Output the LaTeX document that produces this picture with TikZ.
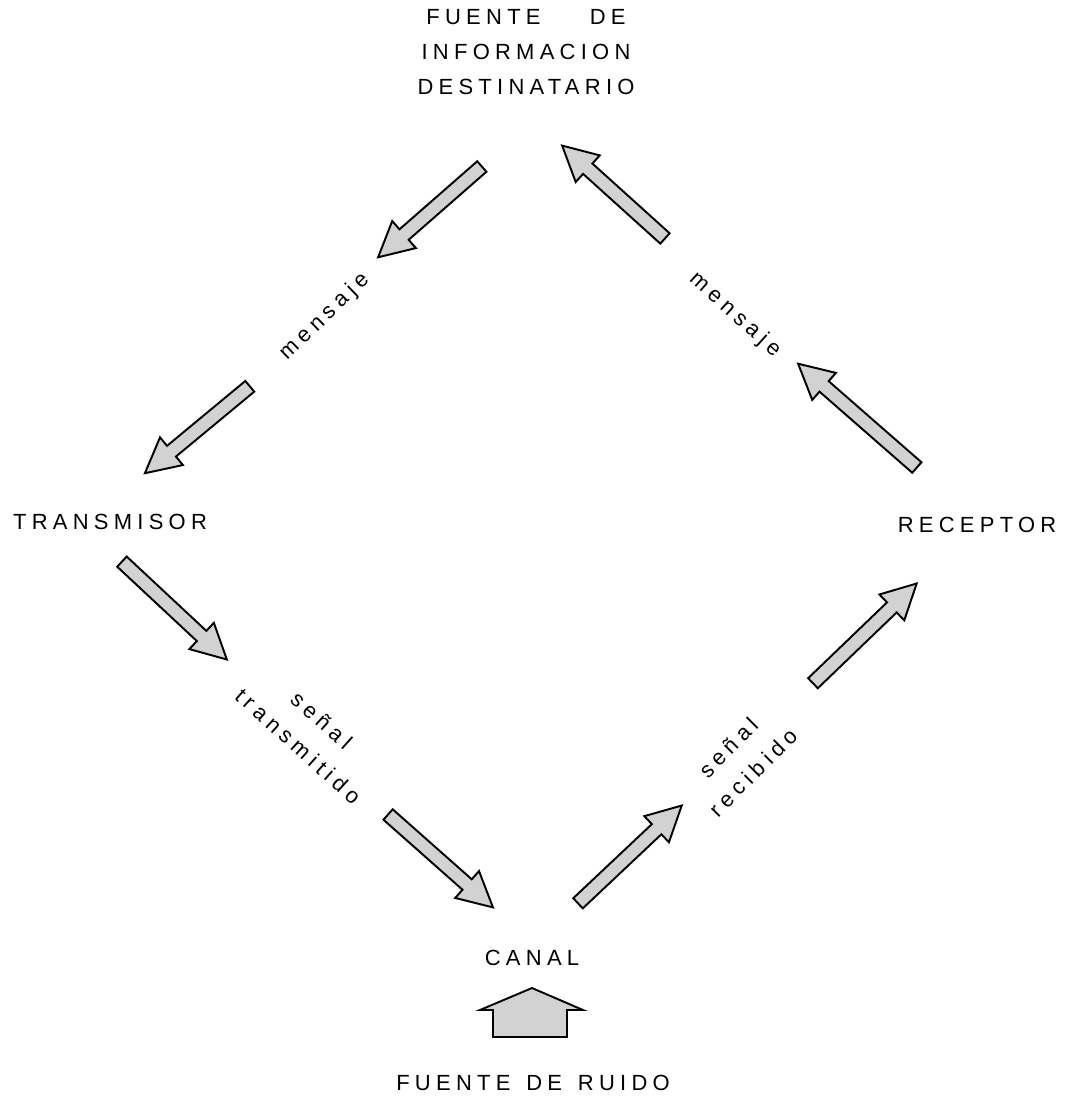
\documentclass[tikz,border=0pt]{standalone}
\usepackage{fontspec}
\setmainfont{Liberation Sans}[LetterSpace=24]
\usetikzlibrary{positioning,calc,shapes.arrows}

\tikzset{
  lbl/.style={font=\fontsize{12.5}{20}\selectfont, inner sep=0pt},
  fatarrow/.style={single arrow, draw=black, line width=1.1pt, fill=gray!35,
    inner xsep=0pt, inner ysep=0.12cm, text height=0pt, text depth=0pt,
    single arrow head extend=0.22cm, single arrow tip angle=55},
}
% fat arrow from #1 to #2, named #3
\newcommand{\fatarrow}[3]{%
  \path let \p1=($(#2)-(#1)$), \n1={atan2(\y1,\x1)}, \n2={veclen(\x1,\y1)} in
    node[fatarrow, rotate=\n1, minimum height=\n2] (#3) at ($(#1)!0.5!(#2)$) {};}

\begin{document}
\begin{tikzpicture}[x=0.02cm,y=-0.02cm]
  \useasboundingbox (0,0) rectangle (1068,1101);
  % labels
  \node[lbl, align=center] (fuente) at (526,52) {FUENTE\hspace{28pt}DE\\INFORMACION\\DESTINATARIO};
  \node[lbl] (trans) at (110,522) {TRANSMISOR};
  \node[lbl] (recep) at (977,525) {RECEPTOR};
  \node[lbl] (canal) at (532,958) {CANAL};
  \node[lbl] (ruido) at (533,1083) {FUENTE\hspace{9pt}DE\hspace{9pt}RUIDO};
  \node[lbl, rotate=44] (msg1) at (325,317) {mensaje};
  \node[lbl, rotate=-42] (msg2) at (735,315) {mensaje};
  \node[lbl, rotate=-42, align=center] (stx) at (310,733) {señal\\transmitido};
  \node[lbl, rotate=45, align=center] (srx) at (741,760) {señal\\recibido};
  % arrow ends
  \coordinate (a1s) at (487,162); \coordinate (a1e) at (383,253);
  \coordinate (a2s) at (670,243); \coordinate (a2e) at (567,150);
  \coordinate (a3s) at (255,382); \coordinate (a3e) at (150,469);
  \coordinate (a4s) at (922,472); \coordinate (a4e) at (803,368);
  \coordinate (a5s) at (117,557); \coordinate (a5e) at (222,655);
  \coordinate (a6s) at (383,810); \coordinate (a6e) at (488,903);
  \coordinate (a7s) at (573,908); \coordinate (a7e) at (677,810);
  \coordinate (a8s) at (808,688); \coordinate (a8e) at (912,588);
  \fatarrow{a1s}{a1e}{ar1}
  \fatarrow{a2s}{a2e}{ar2}
  \fatarrow{a3s}{a3e}{ar3}
  \fatarrow{a4s}{a4e}{ar4}
  \fatarrow{a5s}{a5e}{ar5}
  \fatarrow{a6s}{a6e}{ar6}
  \fatarrow{a7s}{a7e}{ar7}
  \fatarrow{a8s}{a8e}{ar8}
  % noise arrow
  \draw[line width=1.1pt, fill=gray!35] (493,1037) -- (493,1010) -- (480,1010) -- (532,988)
    -- (583,1010) -- (567,1010) -- (567,1037) -- cycle;
\end{tikzpicture}
\end{document}
